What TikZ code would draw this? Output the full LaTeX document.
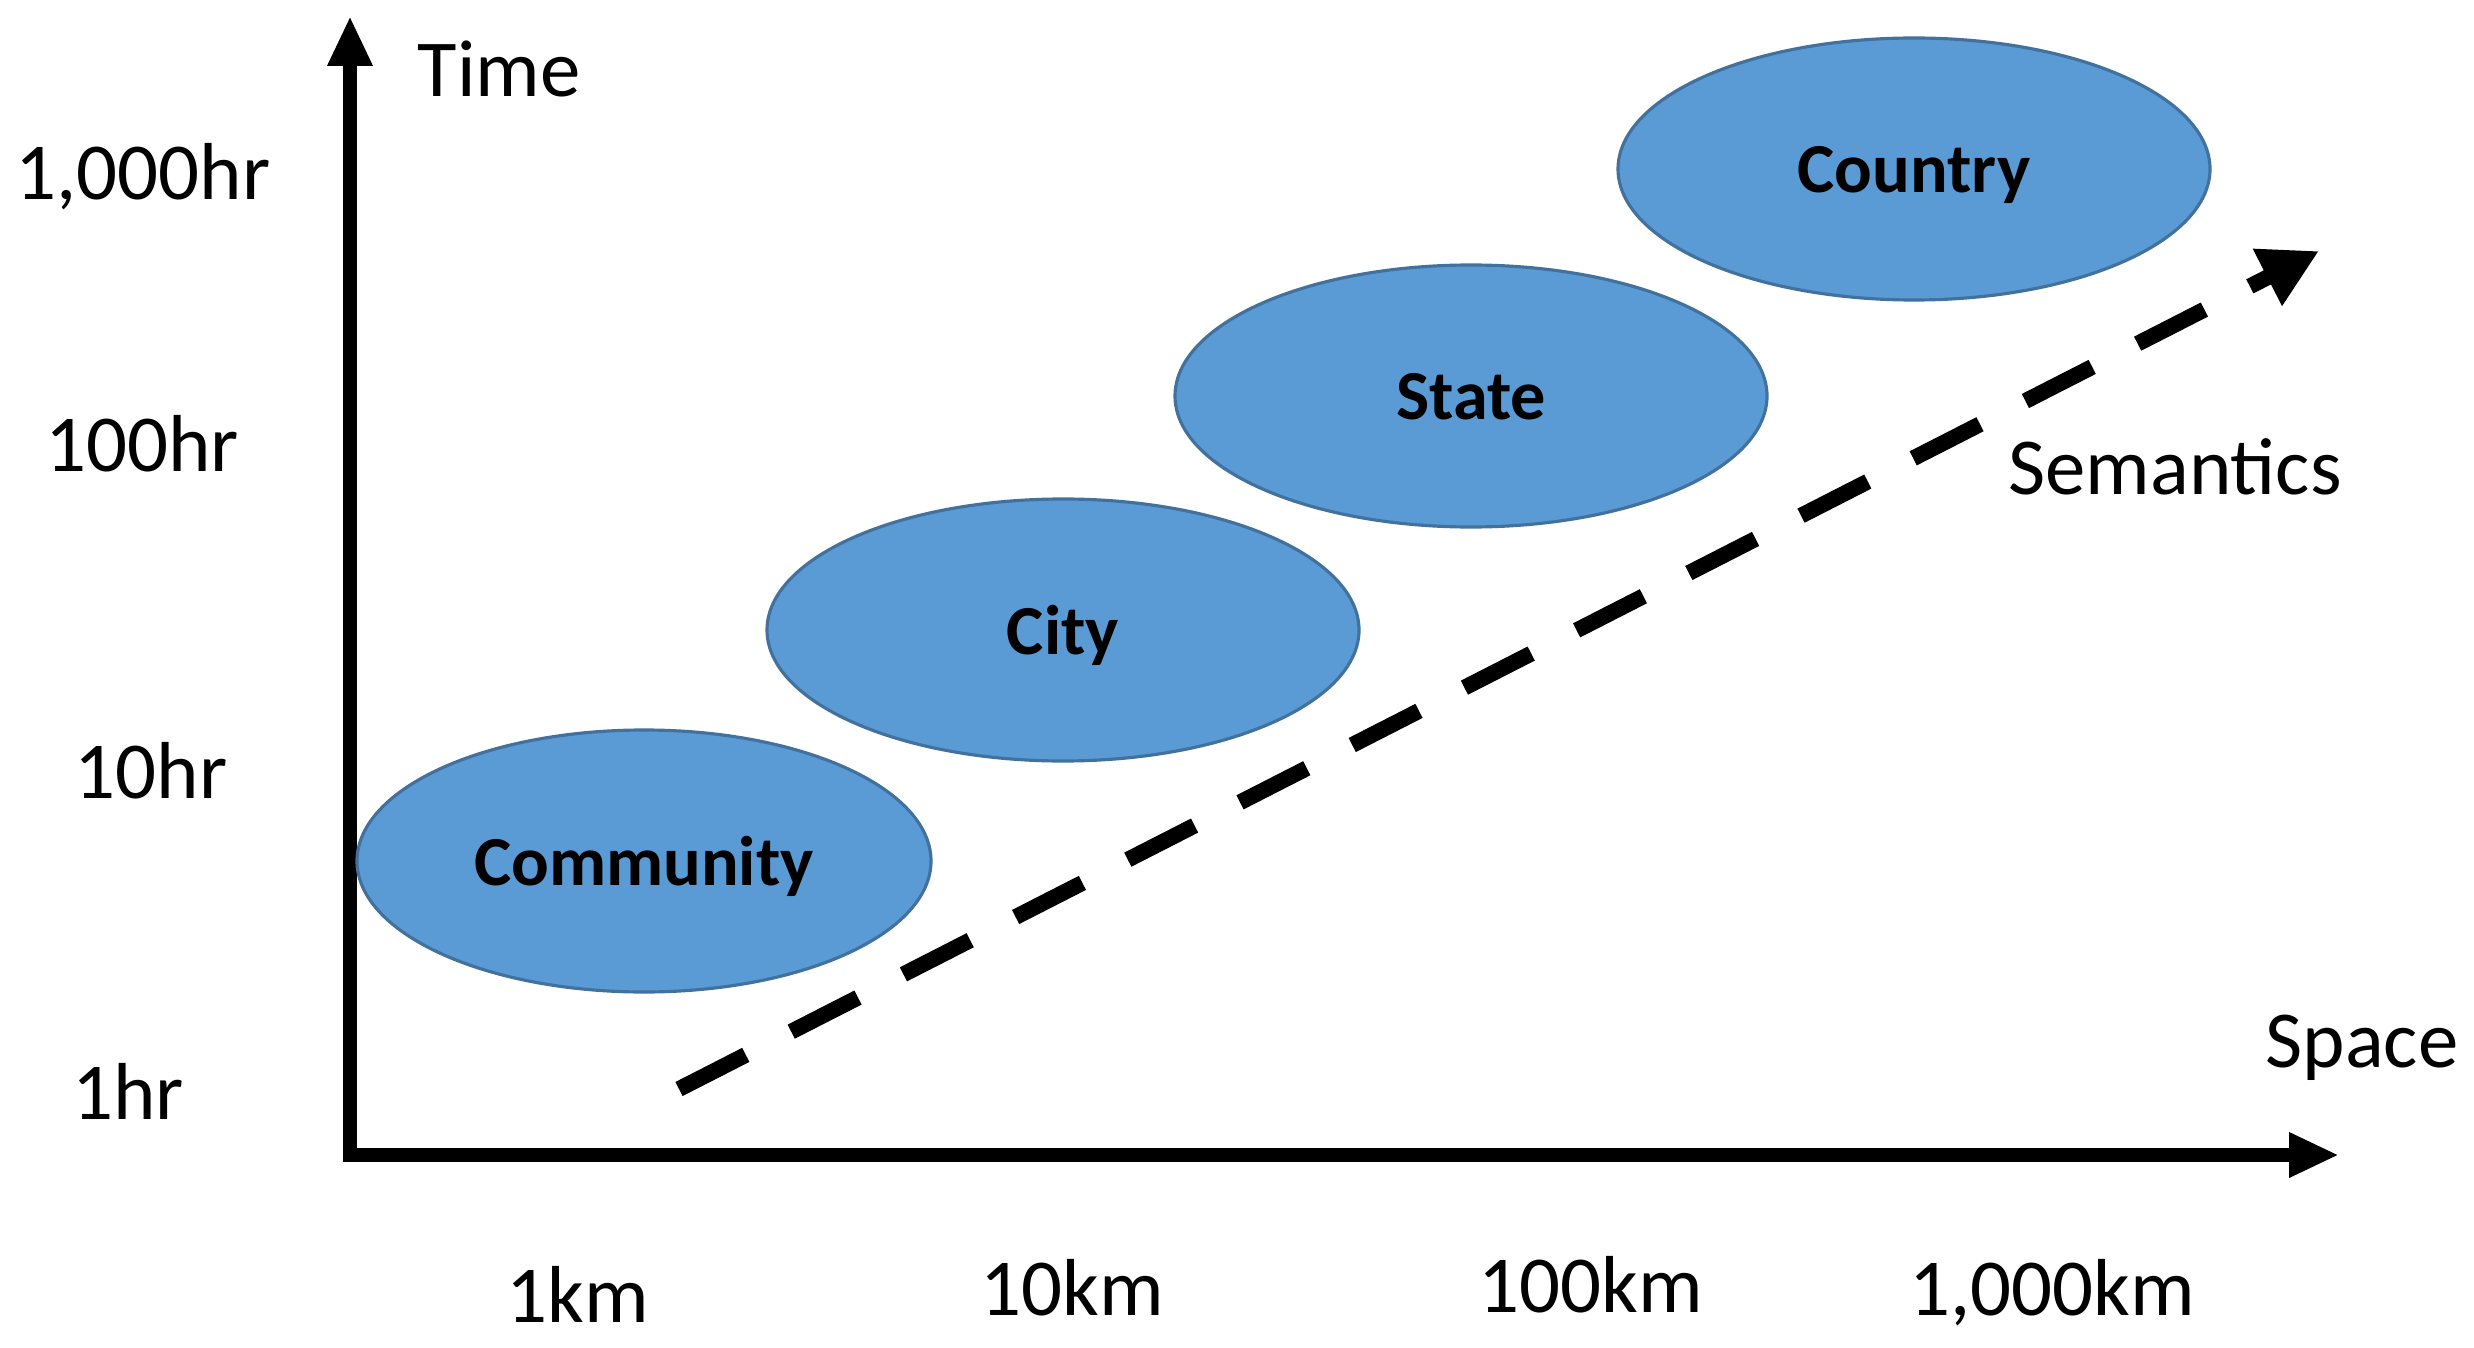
\documentclass[tikz,border=0pt]{standalone}
\usepackage{fontspec}
\setmainfont{Carlito}
\usetikzlibrary{arrows.meta}
\usetikzlibrary{shapes.geometric}

\definecolor{ovalblue}{HTML}{5B9BD5}
\definecolor{ovaledge}{HTML}{41719C}

\begin{document}
\begin{tikzpicture} [
  oval/.style={ellipse, fill=ovalblue, draw=ovaledge, line width=0.9pt, inner sep=0,
    minimum width=5.92cm, minimum height=2.62cm, text depth=0pt,
    font=\fontsize{20}{24}\selectfont\bfseries},
  lbl/.style={anchor=base, inner sep=0, font=\fontsize{23}{27}\selectfont},
  axis/.style={black, line width=4pt, line join=miter,
    {Triangle[length=0.5cm,width=0.42cm]}-{Triangle[length=0.5cm,width=0.42cm]}}
]
\useasboundingbox (0,0) rectangle (24.74,13.47);
\coordinate (O) at (3.5,1.92);
\coordinate (ytop) at (3.5,13.31);
\coordinate (xend) at (23.39,1.92);
\draw[axis] (ytop) -- (O) -- (xend);
\node[lbl] (time) at (4.99,12.50) {Time};
\node[lbl] (space) at (23.62,2.80) {Space};
\foreach \x/\y/\t [count=\i] in {1.43/11.47/{1,000hr}, 1.42/8.75/100hr, 1.51/5.49/10hr, 1.28/2.28/1hr} {
 \node[lbl] (hr\i) at (\x,\y) {\t};
}
\foreach \x/\y/\t [count=\i] in {5.78/0.25/1km, 10.72/0.32/10km, 15.91/0.35/100km, 20.52/0.32/{1,000km}} {
 \node[lbl] (km\i) at (\x,\y) {\t};
}
% scales
\node[oval, minimum width=5.74cm] (community) at (6.44,4.86) {Community};
\node[oval] (city) at (10.63,7.17) {City};
\node[oval] (state) at (14.71,9.51) {State};
\node[oval] (country) at (19.14,11.78) {Country};
% semantics
\coordinate (s0) at (6.79,2.58);
\coordinate (s1) at (23.19,10.96);
\draw[black, line width=4.5pt, dash pattern=on 0.75cm off 0.51cm, -{Triangle[length=0.58cm,width=0.6cm]}] (s0) -- (s1);
\node[lbl] (sem) at (21.75,8.53) {Semantics};
\end{tikzpicture}
\end{document}
